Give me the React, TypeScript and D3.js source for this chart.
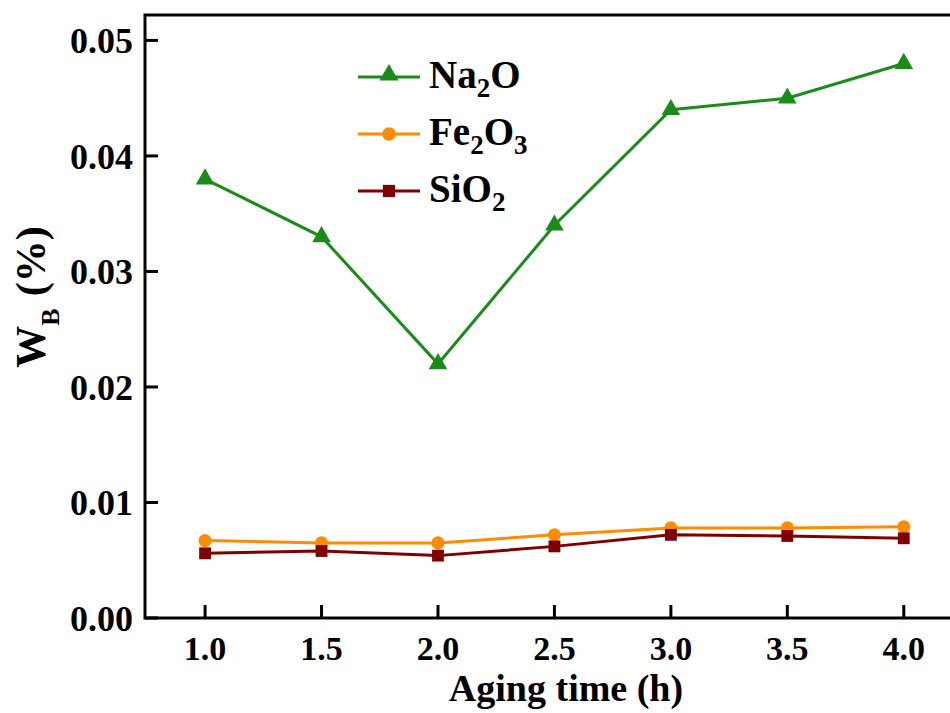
import React, { useEffect, useRef } from 'react'
import * as d3 from 'd3'

// aging time (h)
const times = [1.0, 1.5, 2.0, 2.5, 3.0, 3.5, 4.0]
const na2o = [0.038, 0.033, 0.022, 0.034, 0.044, 0.045, 0.048]
const fe2o3 = [0.0067, 0.0065, 0.0065, 0.0072, 0.0078, 0.0078, 0.0079]
const sio2 = [0.0056, 0.0058, 0.0054, 0.0062, 0.0072, 0.0071, 0.0069]
const yTicks = [0, 0.01, 0.02, 0.03, 0.04, 0.05]
const xTicks = [1.0, 1.5, 2.0, 2.5, 3.0, 3.5, 4.0]

const series = [
  { name: 'Na', sub1: '2', mid: 'O', sub2: '', values: na2o, color: '#1a8c1a', marker: 'triangle' },
  { name: 'Fe', sub1: '2', mid: 'O', sub2: '3', values: fe2o3, color: '#ff8c00', marker: 'circle' },
  { name: 'SiO', sub1: '2', mid: '', sub2: '', values: sio2, color: '#800000', marker: 'square' }
]

const margin = { top: 15, left: 145, bottom: 95, right: -12 }
const width = 950
const height = 713
const font = 'Liberation Serif, Times New Roman, Times, serif'

const symbolFor = (m) => m === 'triangle' ? d3.symbolTriangle
  : m === 'circle' ? d3.symbolCircle : d3.symbolSquare
const sizeFor = (m) => m === 'triangle' ? 150 : m === 'circle' ? 135 : 140

const App = () => {
  const ref = useRef(null)

  useEffect(() => {
    const root = d3.select(ref.current)
    root.selectAll('*').remove()

    const chartWidth = width - margin.left - margin.right
    const chartHeight = height - margin.top - margin.bottom

    const x = d3.scaleLinear().domain([0.742, 4.25]).range([0, chartWidth])
    const y = d3.scaleLinear().domain([0, 0.0522]).range([chartHeight, 0])

    const svg = root.append('svg')
      .attr('width', width)
      .attr('height', height)
      .attr('font-family', font)
      .attr('font-weight', 'bold')
      .style('display', 'block')
      .style('background', '#fff')

    const chart = svg.append('g')
      .attr('transform', 'translate(' + margin.left + ',' + margin.top + ')')

    // series lines + markers
    series.forEach((s) => {
      const pts = times.map((t, i) => [x(t), y(s.values[i])])
      chart.append('path')
        .attr('d', d3.line()(pts as [number, number][]))
        .attr('fill', 'none')
        .attr('stroke', s.color)
        .attr('stroke-width', 3)

      chart.selectAll('.m-' + s.name)
        .data(pts)
        .enter().append('path')
        .attr('d', d3.symbol().type(symbolFor(s.marker)).size(sizeFor(s.marker))())
        .attr('transform', (d) => 'translate(' + d[0] + ',' + d[1] + ')')
        .attr('fill', s.color)
    })

    // frame
    chart.append('rect')
      .attr('x', 0)
      .attr('y', 0)
      .attr('width', chartWidth)
      .attr('height', chartHeight)
      .attr('fill', 'none')
      .attr('stroke', '#000')
      .attr('stroke-width', 3)

    // y ticks
    yTicks.forEach((t) => {
      chart.append('line')
        .attr('x1', 0).attr('x2', 13)
        .attr('y1', y(t)).attr('y2', y(t))
        .attr('stroke', '#000').attr('stroke-width', 3)
      chart.append('text')
        .attr('x', -12)
        .attr('y', y(t))
        .attr('dy', '0.35em')
        .attr('text-anchor', 'end')
        .attr('font-size', 36)
        .text(t.toFixed(2))
    })

    // x ticks
    xTicks.forEach((t) => {
      chart.append('line')
        .attr('x1', x(t)).attr('x2', x(t))
        .attr('y1', chartHeight).attr('y2', chartHeight - 13)
        .attr('stroke', '#000').attr('stroke-width', 3)
      chart.append('text')
        .attr('x', x(t))
        .attr('y', chartHeight + 42)
        .attr('text-anchor', 'middle')
        .attr('font-size', 34)
        .text(t.toFixed(1))
    })

    // axis titles
    svg.append('text')
      .attr('x', 566)
      .attr('y', 701)
      .attr('text-anchor', 'middle')
      .attr('font-size', 38)
      .text('Aging time (h)')

    const yt = svg.append('text')
      .attr('transform', 'translate(45,297) rotate(-90)')
      .attr('text-anchor', 'middle')
      .attr('font-size', 42)
    yt.append('tspan').text('W')
    yt.append('tspan').attr('dy', 14).attr('font-size', 26).text('B')
    yt.append('tspan').attr('dy', -14).attr('dx', 12).text('(%)')

    // legend
    series.forEach((s, i) => {
      const ly = 77 + i * 57
      svg.append('line')
        .attr('x1', 358).attr('x2', 420)
        .attr('y1', ly).attr('y2', ly)
        .attr('stroke', s.color).attr('stroke-width', 3)
      svg.append('path')
        .attr('d', d3.symbol().type(symbolFor(s.marker)).size(sizeFor(s.marker) + 10)())
        .attr('transform', 'translate(389,' + (ly - (s.marker === 'triangle' ? 2 : 0)) + ')')
        .attr('fill', s.color)
      const txt = svg.append('text')
        .attr('x', 429)
        .attr('y', ly + 11)
        .attr('font-size', 39)
      txt.append('tspan').text(s.name)
      txt.append('tspan').attr('dy', 9).attr('font-size', 27).text(s.sub1)
      if (s.mid) txt.append('tspan').attr('dy', -9).text(s.mid)
      if (s.sub2) txt.append('tspan').attr('dy', 9).attr('font-size', 27).text(s.sub2)
    })
  }, [])

  return <div ref={ref} style={{ position: 'fixed', top: 0, left: 0, width, height, overflow: 'hidden' }} />
}

export default App
